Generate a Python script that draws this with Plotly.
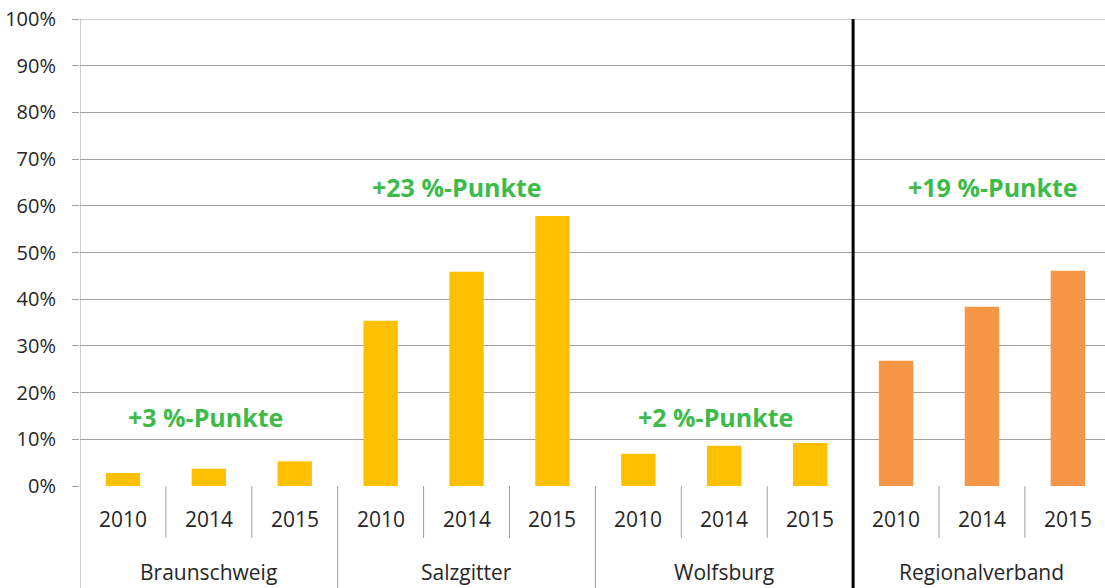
import plotly.graph_objects as go

groups = ["Braunschweig", "Salzgitter", "Wolfsburg", "Regionalverband"]
years = ["2010", "2014", "2015"]
values = {
    "Braunschweig": [0.028, 0.037, 0.053],
    "Salzgitter": [0.354, 0.459, 0.578],
    "Wolfsburg": [0.069, 0.086, 0.092],
    "Regionalverband": [0.268, 0.384, 0.461],
}
group_colors = {
    "Braunschweig": "#FFC000",
    "Salzgitter": "#FFC000",
    "Wolfsburg": "#FFC000",
    "Regionalverband": "#F79646",
}
change_labels = ["+3 %-Punkte", "+23 %-Punkte", "+2 %-Punkte", "+19 %-Punkte"]
change_label_y = [0.148, 0.640, 0.148, 0.640]
change_label_dx = [-3, -10, -9, 11]
y_ticks = [i / 10 for i in range(11)]

FONT = "Open Sans"
GRID = "#A0A0A0"
TXT = "#262626"
W, H = 1105, 588
ML, MT, MB = 80, 19, 102
plot_h = H - MT - MB

xs, ys, cols, yr_lbl = [], [], [], []
i = 0
for g in groups:
    for y, v in zip(years, values[g]):
        xs.append(i)
        ys.append(v)
        cols.append(group_colors[g])
        yr_lbl.append(y)
        i += 1
n = len(xs)

fig = go.Figure()
fig.add_trace(go.Bar(x=xs, y=ys, marker=dict(color=cols, line=dict(width=0)), width=0.4,
                     hoverinfo="skip"))

shapes = []
annotations = []
below_year = -52 / plot_h
below_all = -(MB + 5) / plot_h

pos = 0
for gi, g in enumerate(groups):
    k = len(values[g])
    for j in range(1, k):
        shapes.append(dict(type="line", xref="x", yref="paper", x0=pos + j - 0.5, x1=pos + j - 0.5,
                           y0=0, y1=below_year, line=dict(color=GRID, width=1)))
    if gi > 0:
        shapes.append(dict(type="line", xref="x", yref="paper", x0=pos - 0.5, x1=pos - 0.5,
                           y0=0, y1=below_all, line=dict(color=GRID, width=1)))
    annotations.append(dict(x=pos + (k - 1) / 2, y=0, xref="x", yref="y", yshift=-86,
                            text=g, showarrow=False, font=dict(family=FONT, size=21, color=TXT)))
    annotations.append(dict(x=pos + (k - 1) / 2, y=change_label_y[gi], xref="x", yref="y",
                            xshift=change_label_dx[gi],
                            text="<b>" + change_labels[gi] + "</b>", showarrow=False,
                            font=dict(family=FONT, size=25, color="#3DBB4A")))
    pos += k

# top gridline (100%)
shapes.append(dict(type="line", xref="paper", yref="y", x0=0, x1=1, y0=y_ticks[-1], y1=y_ticks[-1],
                   line=dict(color=GRID, width=1)))
shapes.append(dict(type="line", xref="x", yref="paper", x0=-0.5, x1=-0.5, y0=1, y1=below_all,
                   line=dict(color=GRID, width=1)))
reg_start = n - len(values[groups[-1]])
shapes.append(dict(type="line", xref="x", yref="paper", x0=reg_start - 0.5, x1=reg_start - 0.5,
                   y0=1, y1=below_all, line=dict(color="#000000", width=3)))

for x, t in zip(xs, yr_lbl):
    annotations.append(dict(x=x, y=0, xref="x", yref="y", yshift=-33, text=t, showarrow=False,
                            font=dict(family=FONT, size=21, color=TXT)))

slot = 85.9
fig.update_layout(
    width=W, height=H,
    margin=dict(l=ML, r=0, t=MT, b=MB, autoexpand=False),
    plot_bgcolor="white", paper_bgcolor="white",
    showlegend=False,
    shapes=shapes, annotations=annotations,
    xaxis=dict(range=[-0.5, -0.5 + (W - ML) / slot], showticklabels=False, showgrid=False,
               zeroline=False, showline=False, fixedrange=True, automargin=False),
    yaxis=dict(range=[0, 1], tickvals=y_ticks, tickformat=".0%", showgrid=True, gridcolor=GRID,
               gridwidth=1, zeroline=False, showline=False, ticks="outside", ticklen=7,
               tickcolor=GRID, ticklabelstandoff=12, ticklabeloverflow="allow", automargin=False,
               fixedrange=True, tickfont=dict(family=FONT, size=20, color=TXT)),
    font=dict(family=FONT),
)
fig.write_html("out.html", config={"displayModeBar": False},
               post_script="document.body.style.margin='0';document.body.style.overflow='hidden';")
